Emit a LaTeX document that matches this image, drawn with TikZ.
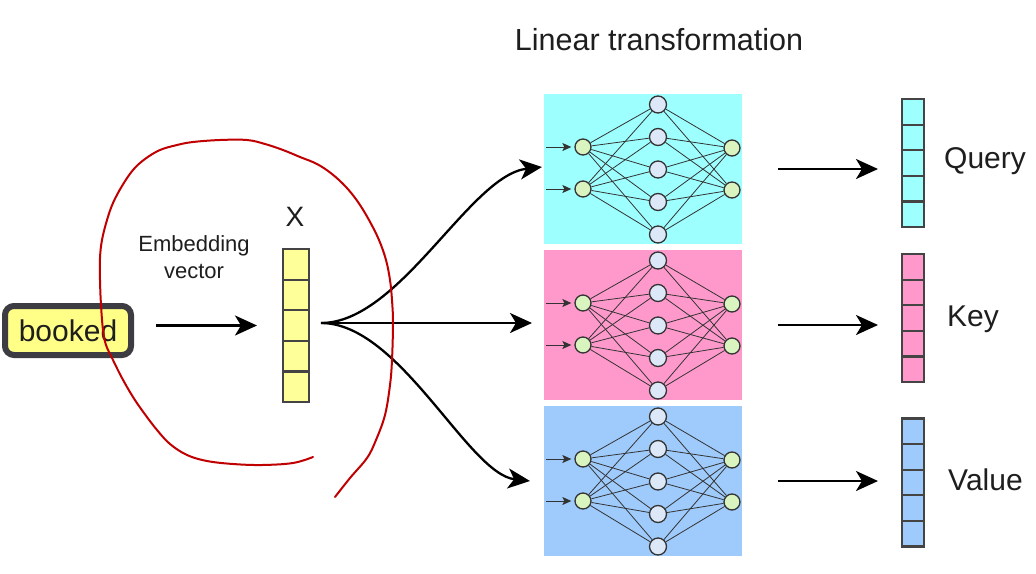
\documentclass[tikz,border=0pt]{standalone}
\usepackage{fontspec}
\setmainfont{Liberation Sans}
\usetikzlibrary{arrows.meta}
\definecolor{qfill}{HTML}{9EFFFF}
\definecolor{kfill}{HTML}{FF99CC}
\definecolor{vfill}{HTML}{9ECBFC}
\definecolor{xfill}{HTML}{FFFF99}
\definecolor{bkfill}{HTML}{FFFF88}
\definecolor{bkdraw}{HTML}{3C3C42}
\definecolor{cellgray}{HTML}{444444}
\definecolor{ngreen}{HTML}{DAF4C0}
\definecolor{nblue}{HTML}{DCE8F8}
\definecolor{nline}{HTML}{333333}
\definecolor{redpen}{HTML}{C00000}
\definecolor{txt}{HTML}{1E1E1E}
\pgfdeclarelayer{bg}
\pgfdeclarelayer{mid}
\pgfsetlayers{bg,mid,main}
\tikzset{
  panel/.style={rectangle, draw=none, minimum width=198pt, minimum height=150pt, inner sep=0pt, outer sep=0pt},
  ionode/.style={circle, draw=nline, line width=1.3pt, fill=ngreen, minimum size=16pt, inner sep=0pt},
  hidnode/.style={circle, draw=nline, line width=1.3pt, fill=nblue, minimum size=17pt, inner sep=0pt},
  conn/.style={draw=nline, line width=0.8pt},
  smallarr/.style={draw=nline, line width=1pt, -{Stealth[length=9pt,width=8pt,inset=2pt]}},
  bigarr/.style={draw=black, line width=2.3pt, -{Stealth[length=22pt,width=20pt,inset=6pt]}},
  xcell/.style={rectangle, draw=cellgray, line width=2.2pt, fill=xfill, minimum width=26pt, minimum height=30.6pt, inner sep=0pt, outer sep=0pt},
  ocell/.style={rectangle, draw=cellgray, line width=2.2pt, minimum width=22pt, minimum height=25.6pt, inner sep=0pt, outer sep=0pt},
  lab/.style={text=txt, inner sep=0pt, font=\fontsize{30}{32}\selectfont},
}
\begin{document}
\begin{tikzpicture}[x=1pt, y=-1pt]
\useasboundingbox (0,0) rectangle (1036,573);
\begin{pgfonlayer}{bg}
\fill[white] (0,0) rectangle (1036,573);
\end{pgfonlayer}

% title
\node[lab, font=\fontsize{30.5}{32}\selectfont] (title) at (659,40) {Linear transformation};

% input word
\node[rectangle, rounded corners=9pt, draw=bkdraw, line width=6pt, fill=bkfill,
      minimum width=126pt, minimum height=49pt, inner sep=0pt, text=txt,
      font=\fontsize{30}{32}\selectfont] (booked) at (68,330.5) {booked};

% embedding label
\node[text=txt, align=center, inner sep=0pt, font=\fontsize{22}{27}\selectfont] (emb) at (194,257) {Embedding\\vector};

% X vector
\foreach \i in {1,...,5}
  \node[xcell] (x\i) at (296,{249+15.3+30.6*(\i-1)}) {};
\node[lab, font=\fontsize{28}{30}\selectfont] (xlab) at (295,217) {X};

\draw[bigarr, shorten <=22pt, shorten >=26pt] (booked.east |- x3.west) -- (x3.west);

% panels with networks
\foreach \p/\c/\col in {q/169/qfill,k/325/kfill,v/481/vfill}{
  \begin{pgfonlayer}{bg}
    \node[panel, fill=\col] (\p-panel) at (643,\c) {};
  \end{pgfonlayer}
  \node[ionode] (\p-i1) at (583,{\c-22}) {};
  \node[ionode] (\p-i2) at (583,{\c+20}) {};
  \node[ionode] (\p-o1) at (732,{\c-21}) {};
  \node[ionode] (\p-o2) at (732,{\c+21}) {};
  \foreach \j/\d in {1/-65,2/-32.5,3/0,4/32.5,5/65}
    \node[hidnode] (\p-h\j) at (658,{\c+0.5+\d}) {};
  \begin{pgfonlayer}{mid}
    \foreach \a in {1,2}{
      \foreach \b in {1,...,5}{
        \draw[conn] (\p-i\a) -- (\p-h\b);
        \draw[conn] (\p-h\b) -- (\p-o\a);
      }
    }
  \end{pgfonlayer}
  \draw[smallarr, shorten >=3pt] ([xshift=-28pt]\p-i1.west) -- (\p-i1.west);
  \draw[smallarr, shorten >=3pt] ([xshift=-28pt]\p-i2.west) -- (\p-i2.west);
}

% output vectors
\foreach \p/\top/\col in {q/99/qfill,k/254/kfill,v/418.5/vfill}{
  \foreach \i in {1,...,5}
    \node[ocell, fill=\col] (\p-c\i) at (913,{\top+12.8+25.6*(\i-1)}) {};
  \draw[bigarr, shorten <=36pt, shorten >=24pt] (\p-panel.east) -- (\p-panel.east -| \p-c3.west);
}
\node[lab, anchor=west] (qlab) at (944,161) {Query};
\node[lab, anchor=west] (klab) at (947,319) {Key};
\node[lab, anchor=west] (vlab) at (948,480) {Value};

% fan out from X
\coordinate (fan) at (321,323);
\draw[bigarr] (fan) .. controls (400,323) and (470,175) .. ([xshift=-2pt,yshift=2pt]q-panel.west);
\draw[bigarr] (fan) -- ([xshift=-12pt]k-panel.west |- fan);
\draw[bigarr] (fan) .. controls (400,323) and (468,474) .. ([xshift=-14pt]v-panel.west);

% red hand-drawn loop
\draw[redpen, line width=2pt, line cap=round, line join=round] plot[smooth, tension=0.6] coordinates {
  (313,457) (293,463) (262,465) (233,464) (207,461) (187,455) (170,444) (157,430)
  (144,413) (133,397) (122,378) (113,360) (106,345) (103,330) (101,305) (100,280)
  (100,258) (102,240) (107,220) (113,203) (122,186) (133,170) (145,159) (160,150)
  (177,145) (193,142) (220,140) (247,140) (265,144) (283,150) (300,157) (317,164)
  (332,174) (346,187) (358,202) (369,220) (379,240) (386,260) (390,280)
  (392,300) (393,323) (392,360) (390,385) (385,415) (376,440) (367,458) (350,478)
  (335,497)};
\end{tikzpicture}
\end{document}
